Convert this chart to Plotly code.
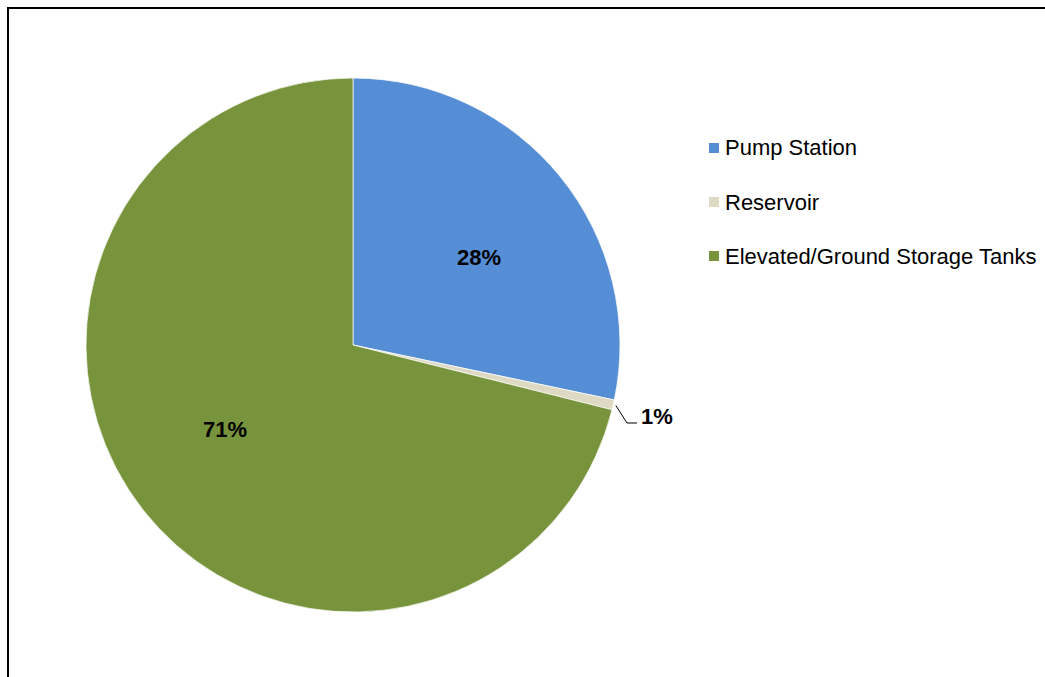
import math
import plotly.graph_objects as go

# Share of facilities by type
categories = ["Pump Station", "Reservoir", "Elevated/Ground Storage Tanks"]
shares = [28.3, 0.6, 71.1]
colors = ["#558ED5", "#DDD9C3", "#77933C"]

W, H = 1045, 677
CX, CY, R = 353, 345, 267          # pie centre and radius in pixels
FONT = "Liberation Sans, Arial, sans-serif"


def px(x):
    return x / W


def py(y):
    return 1 - y / H


fig = go.Figure(
    go.Pie(
        labels=categories,
        values=shares,
        marker=dict(colors=colors, line=dict(color="rgba(255,255,255,0.7)", width=1)),
        sort=False,
        direction="clockwise",
        rotation=0,
        textinfo="none",
        hoverinfo="label+percent",
        showlegend=False,
        domain=dict(x=[px(CX - R), px(CX + R)], y=[py(CY + R), py(CY - R)]),
    )
)

total = sum(shares)
annotations = []
shapes = []

# percentage labels near each slice's mid angle (angles measured clockwise from 12 o'clock)
LABEL_TURN = math.radians(4.5)
cum = 0.0
mids = []
for v in shares:
    mids.append(math.radians((cum + v / 2) / total * 360))
    cum += v

for i, (v, a) in enumerate(zip(shares, mids)):
    label = f"{round(v / total * 100):d}%"
    if v / total >= 0.05:
        b = a + LABEL_TURN
        x = CX + 0.575 * R * math.sin(b)
        y = CY - 0.575 * R * math.cos(b)
        annotations.append(dict(
            x=px(x), y=py(y), xref="paper", yref="paper", text=f"<b>{label}</b>",
            showarrow=False, xanchor="center", yanchor="middle",
            font=dict(family=FONT, size=22, color="#000000"),
        ))
    else:
        # small slice: leader line out to the right
        ex = CX + R * 1.01 * math.sin(a)
        ey = CY - R * 1.01 * math.cos(a)
        path = f"M{px(ex)},{py(ey)} L{px(627)},{py(423)} L{px(637)},{py(423)}"
        shapes.append(dict(type="path", xref="paper", yref="paper", path=path,
                           line=dict(color="#000000", width=1)))
        annotations.append(dict(
            x=px(639), y=py(416), xref="paper", yref="paper", text=f"<b>{label}</b>",
            showarrow=False, xanchor="left", yanchor="middle",
            font=dict(family=FONT, size=22, color="#000000"),
        ))

# legend: square swatch + label per category
for i, (name, c) in enumerate(zip(categories, colors)):
    yc = 148 + i * 54
    shapes.append(dict(type="rect", xref="paper", yref="paper",
                       x0=px(709), x1=px(719), y0=py(yc + 5), y1=py(yc - 5),
                       fillcolor=c, line=dict(width=0)))
    annotations.append(dict(
        x=px(723), y=py(yc), xref="paper", yref="paper", text=name,
        showarrow=False, xanchor="left", yanchor="middle",
        font=dict(family=FONT, size=22, color="#000000"),
    ))

# chart frame
shapes.append(dict(type="rect", xref="paper", yref="paper",
                   x0=px(8), x1=1.05, y0=-0.05, y1=py(8),
                   line=dict(color="#000000", width=2), fillcolor="rgba(0,0,0,0)"))

fig.update_layout(
    width=W, height=H,
    margin=dict(l=0, r=0, t=0, b=0),
    paper_bgcolor="#FFFFFF",
    plot_bgcolor="#FFFFFF",
    annotations=annotations,
    shapes=shapes,
)

fig.write_html("out.html")
